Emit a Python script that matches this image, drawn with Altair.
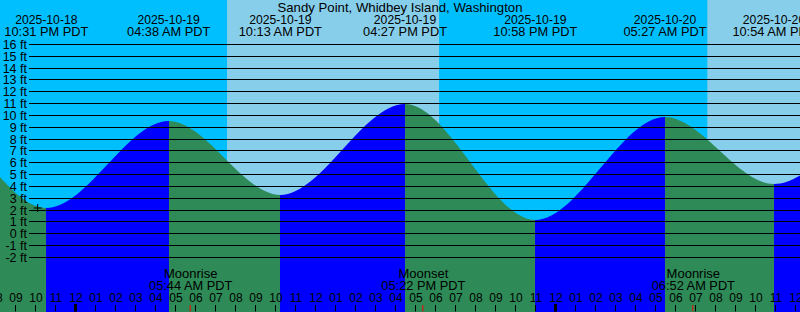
import altair as alt
import pandas as pd

# ---------------- data ----------------
TITLE = "Sandy Point, Whidbey Island, Washington"

# tide extremes (local PDT). First two and last two are off-screen estimates
tide_times = ["2025-10-18T09:40:00", "2025-10-18T16:00:00", "2025-10-18T22:31:00",
              "2025-10-19T04:38:00", "2025-10-19T10:13:00", "2025-10-19T16:27:00",
              "2025-10-19T22:58:00", "2025-10-20T05:27:00", "2025-10-20T10:54:00",
              "2025-10-20T17:15:00", "2025-10-20T23:40:00"]
tide_heights = [3.6, 11.2, 2.10, 9.50, 3.21, 10.95, 1.13, 9.86, 4.14, 10.8, 0.9]
labeled_times = tide_times[2:9]

moon_times = ["2025-10-19T05:44:00", "2025-10-19T17:22:00", "2025-10-20T06:52:00"]
moon_names = ["Moonrise", "Moonset", "Moonrise"]

sunrise_times = ["2025-10-19T07:33:00", "2025-10-20T07:34:00"]
sunset_times = ["2025-10-19T18:09:00", "2025-10-20T18:07:00"]

now_time = ["2025-10-18T22:05:00"]
now_height = [2.17]

levels = list(range(-2, 17))
level_labels = [f"{v} ft" for v in levels]

hour_ticks = [t.strftime("%Y-%m-%dT%H:%M:%S")
              for t in pd.date_range("2025-10-18 20:00", "2025-10-20 12:00", freq="h")]

# ---------------- styling ----------------
NIGHT = "#00BFFF"
DAY = "#87CEEB"
RISE = "#0000FF"
FALL = "#2E8B57"
FONT = "Liberation Sans"
W, H = 800, 312
Y_MIN, Y_MAX = -6.648, 19.718

xs = alt.Scale(domain=[alt.DateTime(year=2025, month=10, date=18, hours=20, minutes=12),
                       alt.DateTime(year=2025, month=10, date=20, hours=12, minutes=12)])
ys = alt.Scale(domain=[Y_MIN, Y_MAX], nice=False, zero=False, round=True)

tide_df = pd.DataFrame({"t": tide_times, "h": tide_heights})
lab_df = pd.DataFrame({"t": labeled_times})
moon_df = pd.DataFrame({"t": moon_times, "name": moon_names})
sun_df = pd.DataFrame({"rise": sunrise_times, "set": sunset_times})
lev_df = pd.DataFrame({"lev": levels, "label": level_labels})
hours_df = pd.DataFrame({"t": hour_ticks})
hours_df["midnight"] = [t.endswith("T00:00:00") for t in hour_ticks]
now_df = pd.DataFrame({"t": now_time, "h": now_height})

# gradient stops: rising segments blue, falling segments green
tt = pd.to_datetime(pd.Series(tide_times))
span = (tt.iloc[-1] - tt.iloc[0]).total_seconds()
offs = [(t - tt.iloc[0]).total_seconds() / span for t in tt]
stops = []
for i in range(len(tide_heights) - 1):
    c = RISE if tide_heights[i + 1] > tide_heights[i] else FALL
    stops.append(alt.GradientStop(offset=offs[i], color=c))
    stops.append(alt.GradientStop(offset=offs[i + 1], color=c))
grad = alt.Gradient(gradient="linear", stops=stops, x1=0, x2=1, y1=0, y2=0)


def X(f="t"):
    return alt.X(f"{f}:T", scale=xs, axis=None)


def txt(size, **kw):
    return dict(align="center", baseline="alphabetic", font=FONT, fontSize=size,
                color="black", **kw)


day = alt.Chart(sun_df).mark_rect(color=DAY).encode(
    x=alt.X("rise:T", scale=xs, axis=None), x2="set:T",
    y=alt.value(0), y2=alt.value(H))

tide = alt.Chart(tide_df).mark_area(interpolate="monotone", color=grad, clip=True).encode(
    x=X(), y=alt.Y("h:Q", scale=ys, axis=None), y2=alt.datum(Y_MIN))

grid = alt.Chart(lev_df).mark_rule(color="black", strokeWidth=1, yOffset=0.5).encode(
    y=alt.Y("lev:Q", scale=ys, axis=None), x=alt.value(29), x2=alt.value(W))

ylab = alt.Chart(lev_df).mark_text(**txt(12.5, dy=4.5) | {"align": "right"}).encode(
    y=alt.Y("lev:Q", scale=ys, axis=None), x=alt.value(27), text="label:N")

ticks = alt.Chart(hours_df).mark_rule(color="black", strokeWidth=1, xOffset=-0.5).encode(
    x=X(), y=alt.value(305), y2=alt.value(311.5))

mid_ticks = alt.Chart(hours_df).transform_filter("datum.midnight").mark_rule(
    color="black", strokeWidth=3, xOffset=-0.5).encode(
    x=X(), y=alt.value(304), y2=alt.value(311.5))

hour_lab = alt.Chart(hours_df).mark_text(**txt(12)).encode(
    x=X(), y=alt.value(302), text=alt.Text("t:T", format="%I"))

moon_ticks = alt.Chart(moon_df).mark_rule(color="#FF0000", strokeWidth=1, xOffset=-0.5).encode(
    x=X(), y=alt.value(305), y2=alt.value(311.5))

moon_lab1 = alt.Chart(moon_df).mark_text(**txt(13)).encode(
    x=X(), y=alt.value(278), text="name:N")
moon_lab2 = alt.Chart(moon_df).mark_text(**txt(12.8)).encode(
    x=X(), y=alt.value(290), text=alt.Text("t:T", format="%I:%M %p PDT"))

ev_lab1 = alt.Chart(lab_df).mark_text(**txt(12.2)).encode(
    x=X(), y=alt.value(24), text=alt.Text("t:T", format="%Y-%m-%d"))
ev_lab2 = alt.Chart(lab_df).mark_text(**txt(12.8)).encode(
    x=X(), y=alt.value(36), text=alt.Text("t:T", format="%I:%M %p PDT"))

title = alt.Chart(pd.DataFrame({"s": [TITLE]})).mark_text(**txt(13.2)).encode(
    x=alt.value(W / 2), y=alt.value(11.5), text="s:N")

now_mark = alt.Chart(now_df).mark_point(shape="M-1,0L1,0M0,-1L0,1", size=64, filled=False,
                                        stroke="black", strokeWidth=1, opacity=1).encode(
    x=X(), y=alt.Y("h:Q", scale=ys, axis=None))

chart = alt.layer(day, tide, grid, ylab, ticks, mid_ticks, hour_lab, moon_ticks,
                  moon_lab1, moon_lab2, ev_lab1, ev_lab2, title, now_mark).properties(
    width=W, height=H, padding=0, autosize=alt.AutoSizeParams(type="none"),
    background=NIGHT
).configure_view(stroke=None)

chart.save("out.html", embed_options={"renderer": "svg", "actions": False})
